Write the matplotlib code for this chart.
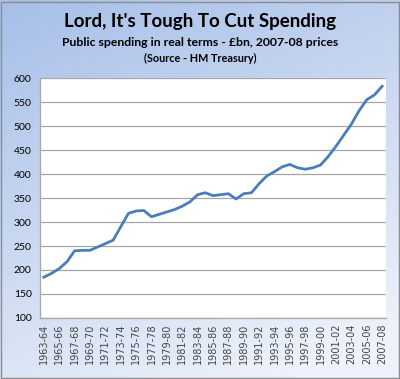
import numpy as np
import matplotlib
matplotlib.use('Agg')
import matplotlib.pyplot as plt

years = ['1963-64', '1964-65', '1965-66', '1966-67', '1967-68', '1968-69', '1969-70',
         '1970-71', '1971-72', '1972-73', '1973-74', '1974-75', '1975-76', '1976-77',
         '1977-78', '1978-79', '1979-80', '1980-81', '1981-82', '1982-83', '1983-84',
         '1984-85', '1985-86', '1986-87', '1987-88', '1988-89', '1989-90', '1990-91',
         '1991-92', '1992-93', '1993-94', '1994-95', '1995-96', '1996-97', '1997-98',
         '1998-99', '1999-00', '2000-01', '2001-02', '2002-03', '2003-04', '2004-05',
         '2005-06', '2006-07', '2007-08']
spending = [185, 193, 203, 217, 240, 241, 241, 248, 255, 262, 290, 318, 323, 324,
            311, 316, 321, 326, 333, 342, 357, 361, 355, 357, 359, 348, 359, 361,
            380, 396, 405, 415, 420, 413, 410, 413, 419, 437, 458, 481, 504, 532,
            555, 565, 583]
yticks = [100, 150, 200, 250, 300, 350, 400, 450, 500, 550, 600]

fig = plt.figure(figsize=(4.0, 3.79), dpi=100)

# background gradient
bg = fig.add_axes([0, 0, 1, 1], zorder=-10)
yy, xx = np.mgrid[0:1:200j, 0:1:200j]
t = np.clip(0.75 * yy + 0.35 * xx, 0, 1)
top = np.array([166, 191, 232]) / 255
bot = np.array([238, 242, 250]) / 255
img = top[None, None, :] * (1 - t[..., None]) + bot[None, None, :] * t[..., None]
bg.imshow(img, aspect='auto', extent=[0, 1, 0, 1], origin='upper')
bg.set_xlim(0, 1)
bg.set_ylim(0, 1)
bg.axis('off')
bg.add_patch(plt.Rectangle((0.002, 0.003), 0.995, 0.993, fill=False,
                           edgecolor='#8c8c8c', linewidth=1))

font = 'Lato'
fig.text(0.5, 0.942, "Lord, It's Tough To Cut Spending", ha='center', va='center',
         fontsize=13.5, fontweight='bold', family=font)
fig.text(0.5, 0.887, 'Public spending in real terms - £bn, 2007-08 prices',
         ha='center', va='center', fontsize=8.8, fontweight='bold', family=font)
fig.text(0.5, 0.847, '(Source - HM Treasury)', ha='center', va='center',
         fontsize=7.8, fontweight='bold', family=font)

ax = fig.add_axes([0.1, 0.161, 0.865, 0.633])
ax.set_facecolor('white')
x = np.arange(len(years))
ax.plot(x, spending, color='#4a7ebb', linewidth=2)
ax.set_ylim(100, 600)
ax.set_xlim(-0.5, len(years) - 0.5)
ax.set_yticks(yticks)
ax.set_xticks(x[::2])
ax.set_xticklabels(years[::2], rotation=90, fontsize=7, family='DejaVu Sans',
                   color='#444444')
for lab in ax.get_yticklabels():
    lab.set_family(font)
    lab.set_fontsize(7.5)
ax.tick_params(axis='both', length=0, pad=6)
ax.tick_params(axis='x', pad=4)
ax.grid(axis='y', color='#a6a6a6', linewidth=0.9)
ax.set_axisbelow(True)
for s in ['top', 'right']:
    ax.spines[s].set_visible(False)
for s in ['left', 'bottom']:
    ax.spines[s].set_color('#a6a6a6')
    ax.spines[s].set_linewidth(0.9)

fig.savefig('out.png', dpi=100)
